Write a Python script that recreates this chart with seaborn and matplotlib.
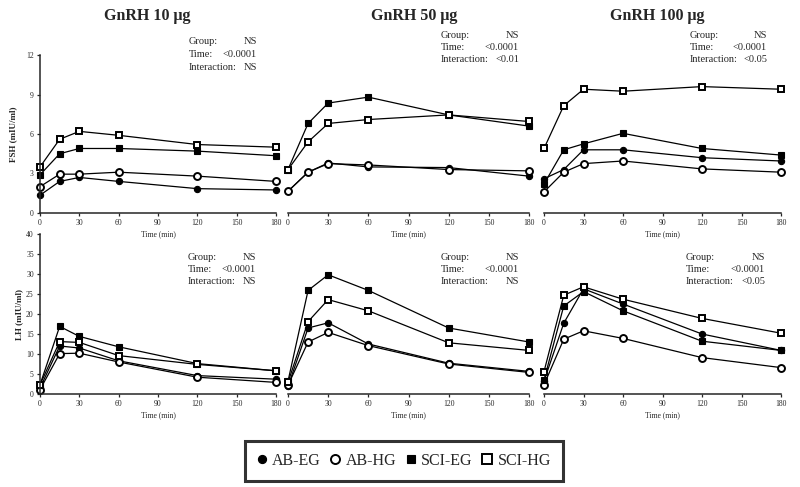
import pandas as pd
import matplotlib
matplotlib.use('Agg')
import matplotlib.pyplot as plt
import seaborn as sns
from matplotlib.lines import Line2D

# time points (min)
times = [0, 15, 30, 60, 120, 180]
groups = ['AB-EG', 'AB-HG', 'SCI-EG', 'SCI-HG']

# FSH (mIU/ml)
fsh_10 = {'AB-EG': [1.35, 2.4, 2.7, 2.4, 1.85, 1.75],
          'AB-HG': [2.0, 2.95, 2.95, 3.1, 2.8, 2.4],
          'SCI-EG': [2.9, 4.5, 4.9, 4.9, 4.7, 4.35],
          'SCI-HG': [3.5, 5.6, 6.2, 5.9, 5.2, 5.0]}
fsh_50 = {'AB-EG': [1.65, 3.1, 3.8, 3.5, 3.45, 2.8],
          'AB-HG': [1.65, 3.1, 3.75, 3.65, 3.3, 3.2],
          'SCI-EG': [3.3, 6.8, 8.35, 8.8, 7.45, 6.6],
          'SCI-HG': [3.3, 5.4, 6.8, 7.1, 7.45, 6.95]}
fsh_100 = {'AB-EG': [2.6, 3.3, 4.8, 4.8, 4.2, 3.95],
           'AB-HG': [1.6, 3.1, 3.75, 3.95, 3.35, 3.1],
           'SCI-EG': [2.2, 4.8, 5.25, 6.05, 4.9, 4.4],
           'SCI-HG': [4.9, 8.15, 9.4, 9.25, 9.6, 9.4]}

# LH (mIU/ml)
lh_10 = {'AB-EG': [1.5, 12.0, 11.5, 8.3, 4.6, 3.7],
         'AB-HG': [1.1, 10.1, 10.2, 8.0, 4.2, 2.9],
         'SCI-EG': [2.3, 16.9, 14.4, 11.8, 7.6, 5.8],
         'SCI-HG': [2.3, 13.1, 12.9, 9.6, 7.4, 5.8]}
lh_50 = {'AB-EG': [1.9, 16.5, 17.8, 12.5, 7.7, 5.65],
         'AB-HG': [2.2, 13.0, 15.4, 12.1, 7.5, 5.4],
         'SCI-EG': [3.2, 25.9, 29.8, 25.9, 16.5, 13.0],
         'SCI-HG': [2.9, 18.1, 23.6, 20.8, 12.8, 10.9]}
lh_100 = {'AB-EG': [3.2, 17.7, 26.3, 22.5, 15.0, 10.9],
          'AB-HG': [2.3, 13.7, 15.8, 13.9, 9.1, 6.6],
          'SCI-EG': [3.5, 22.0, 25.6, 20.8, 13.2, 10.9],
          'SCI-HG': [5.6, 24.7, 26.8, 23.7, 18.9, 15.2]}

titles = ['GnRH 10 μg', 'GnRH 50 μg', 'GnRH 100 μg']
stats_fsh = [('NS', '<0.0001', 'NS'), ('NS', '<0.0001', '<0.01'), ('NS', '<0.0001', '<0.05')]
stats_lh = [('NS', '<0.0001', 'NS'), ('NS', '<0.0001', 'NS'), ('NS', '<0.0001', '<0.05')]

sns.set_style('white')
plt.rcParams['font.family'] = ['Liberation Serif', 'DejaVu Serif']

styles = {'AB-EG': dict(marker='o', mfc='black', ms=4.5, mew=0.8),
          'AB-HG': dict(marker='o', mfc='white', ms=5, mew=1.4),
          'SCI-EG': dict(marker='s', mfc='black', ms=4.5, mew=0.8),
          'SCI-HG': dict(marker='s', mfc='white', ms=5, mew=1.4)}

W, H = 800, 487
fig = plt.figure(figsize=(W / 100, H / 100), dpi=100)


def px_axes(x0, y0, x1, y1):
    # pixel box (top-left origin) -> figure axes
    return fig.add_axes([x0 / W, 1 - y1 / H, (x1 - x0) / W, (y1 - y0) / H])


def draw_panel(ax, data, ymax, ystep, show_y):
    for g in groups:
        df = pd.DataFrame({'time': times, 'value': data[g]})
        sns.lineplot(data=df, x='time', y='value', ax=ax, color='black',
                     lw=0.9, mec='black', clip_on=False, **styles[g])
    ax.set_xlim(0, 180)
    ax.set_ylim(0, ymax)
    ax.set_xticks(range(0, 181, 30))
    ax.set_yticks(range(0, ymax + 1, ystep))
    ax.tick_params(axis='both', labelsize=5.5, length=2.5, width=0.9, pad=2,
                   direction='out', bottom=True, left=show_y)
    for s in ['top', 'right']:
        ax.spines[s].set_visible(False)
    ax.spines['bottom'].set_linewidth(1.1)
    ax.spines['left'].set_linewidth(1.1)
    if not show_y:
        ax.spines['left'].set_visible(False)
        ax.set_yticklabels([])
    ax.set_xlabel('Time (min)', fontsize=5.5, labelpad=2)
    ax.set_ylabel('')
    ax.set_facecolor('none')


cols = [(40, 276), (288, 529), (544, 781)]
top_rows = (55, 213)
bot_rows = (234, 394)

fsh_sets = [fsh_10, fsh_50, fsh_100]
lh_sets = [lh_10, lh_50, lh_100]

for i, (x0, x1) in enumerate(cols):
    ax_f = px_axes(x0, top_rows[0], x1, top_rows[1])
    draw_panel(ax_f, fsh_sets[i], 12, 3, i == 0)
    ax_l = px_axes(x0, bot_rows[0], x1, bot_rows[1])
    draw_panel(ax_l, lh_sets[i], 40, 5, i == 0)
    if i == 0:
        ax_f.set_ylabel('FSH (mIU/ml)', fontsize=6.5, fontweight='bold', labelpad=6)
        ax_l.set_ylabel('LH (mIU/ml)', fontsize=6.5, fontweight='bold', labelpad=2)

# panel titles
title_x = [147, 414, 657]
for tx, t in zip(title_x, titles):
    fig.text(tx / W, 1 - 16 / H, t, ha='center', va='center',
             fontsize=11.5, fontweight='bold')


# statistics text
def stat_block(xl, xr, y0, vals, step=12.5):
    labels = ['Group:', 'Time:', 'Interaction:']
    for k, (lab, v) in enumerate(zip(labels, vals)):
        y = 1 - (y0 + k * step) / H
        fig.text(xl / W, y, lab, ha='left', va='center', fontsize=7.5)
        fig.text(xr / W, y, v, ha='right', va='center', fontsize=7.5)


stat_block(189, 257, 42, stats_fsh[0])
stat_block(441, 519, 35, stats_fsh[1])
stat_block(690, 767, 35, stats_fsh[2])
stat_block(188, 256, 257, stats_lh[0])
stat_block(441, 519, 257, stats_lh[1])
stat_block(686, 765, 257, stats_lh[2])

# legend
handles = [Line2D([], [], ls='none', color='black', mec='black', **styles[g]) for g in groups]
leg = fig.legend(handles, groups, loc='center', bbox_to_anchor=(404 / W, 1 - 461 / H),
                 ncol=4, frameon=True, fancybox=False, fontsize=11.5,
                 handlelength=0.6, handletextpad=0.35, columnspacing=0.6,
                 borderpad=0.75, borderaxespad=0, markerscale=1.3, edgecolor='black')
leg.get_frame().set_linewidth(2.2)

fig.savefig('out.png', dpi=100)
